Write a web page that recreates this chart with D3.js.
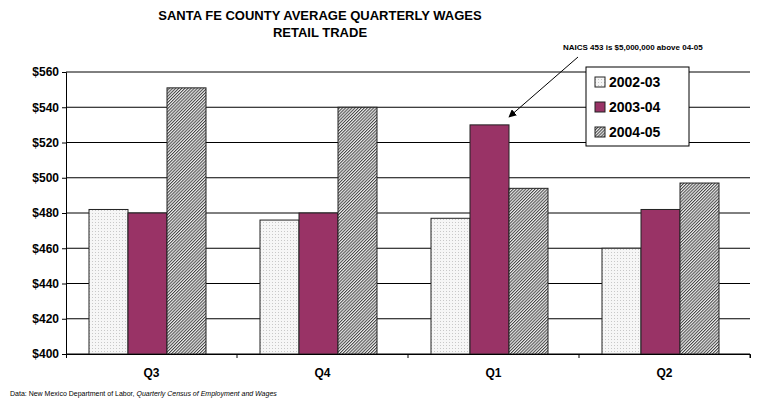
<!DOCTYPE html>
<html><head><meta charset="utf-8">
<script src="https://cdn.jsdelivr.net/npm/d3@7"></script>
<style>body{margin:0;background:#fff;font-family:Arial,"Liberation Sans",sans-serif}</style>
</head><body>
<svg id="c" width="759" height="406"></svg>
<script>
const quarters = ["Q3", "Q4", "Q1", "Q2"];
const years = ["2002-03", "2003-04", "2004-05"];
const wages0203 = [482, 476, 477, 460];
const wages0304 = [480, 480, 530, 482];
const wages0405 = [551, 540, 494, 497];
const yTicks = [400, 420, 440, 460, 480, 500, 520, 540, 560];
const series = [wages0203, wages0304, wages0405];

const svg = d3.select("#c");
const defs = svg.append("defs");
const dots = defs.append("pattern").attr("id", "dots").attr("width", 3).attr("height", 3).attr("patternUnits", "userSpaceOnUse");
dots.append("rect").attr("width", 3).attr("height", 3).attr("fill", "#f6f6f6");
dots.append("rect").attr("width", 1).attr("height", 1).attr("fill", "#c8c8c8");
const hatch = defs.append("pattern").attr("id", "hatch").attr("width", 2.2).attr("height", 2.2).attr("patternUnits", "userSpaceOnUse").attr("patternTransform", "rotate(45)");
hatch.append("rect").attr("width", 2.2).attr("height", 2.2).attr("fill", "#eee");
hatch.append("rect").attr("width", 1).attr("height", 2.2).attr("fill", "#444");
const fills = ["url(#dots)", "#993366", "url(#hatch)"];

const L = 66, R = 750, T = 72, B = 354;
const x = d3.scaleBand().domain(quarters).range([L, R]);
const xs = d3.scaleBand().domain(d3.range(3)).range([0, 117]);
const y = d3.scaleLinear().domain([400, 560]).range([B, T]);

svg.append("g").selectAll("line").data(yTicks).join("line")
  .attr("x1", L).attr("x2", R).attr("y1", d => y(d)).attr("y2", d => y(d))
  .attr("stroke", "#000").attr("stroke-width", 1);

svg.append("g").selectAll("g").data(quarters).join("g")
  .attr("transform", q => `translate(${x(q) + (x.bandwidth() - 117) / 2 - 4},0)`)
  .selectAll("rect").data((q, i) => series.map((s, k) => ({k, v: s[i]}))).join("rect")
  .attr("x", d => xs(d.k)).attr("width", xs.bandwidth())
  .attr("y", d => y(d.v)).attr("height", d => B - y(d.v))
  .attr("fill", d => fills[d.k]).attr("stroke", "#222").attr("stroke-width", 1);

svg.append("g").attr("transform", `translate(${L},0)`)
  .call(d3.axisLeft(y).tickValues(yTicks).tickFormat(d => "$" + d).tickSize(4))
  .call(g => g.selectAll("text").attr("font-size", 12).attr("font-weight", "bold").attr("font-family", "Arial"));
svg.append("g").attr("transform", `translate(0,${B})`)
  .call(d3.axisBottom(x).tickSize(4).tickPadding(10))
  .call(g => g.selectAll("text").attr("font-size", 12).attr("font-weight", "bold").attr("font-family", "Arial"))
  .call(g => g.selectAll(".tick line").attr("transform", `translate(${x.bandwidth() / 2},0)`));

svg.append("text").attr("x", 320).attr("y", 20).attr("text-anchor", "middle").attr("font-size", 13).attr("font-weight", "bold").text("SANTA FE COUNTY AVERAGE QUARTERLY WAGES");
svg.append("text").attr("x", 320).attr("y", 37).attr("text-anchor", "middle").attr("font-size", 13).attr("font-weight", "bold").text("RETAIL TRADE");

svg.append("text").attr("x", 563).attr("y", 50).attr("font-size", 8).attr("font-weight", "bold").text("NAICS 453 is $5,000,000 above 04-05");
defs.append("marker").attr("id", "arr").attr("viewBox", "0 0 10 10").attr("refX", 9).attr("refY", 5)
  .attr("markerWidth", 8).attr("markerHeight", 8).attr("orient", "auto")
  .append("path").attr("d", "M0,0L10,5L0,10z").attr("fill", "#000");
svg.append("line").attr("x1", 578).attr("y1", 57).attr("x2", 509).attr("y2", 117)
  .attr("stroke", "#000").attr("marker-end", "url(#arr)");

const lg = svg.append("g").attr("transform", "translate(586,67)");
lg.append("rect").attr("width", 103).attr("height", 79).attr("fill", "#fff").attr("stroke", "#000");
years.forEach((yr, i) => {
  lg.append("rect").attr("x", 9).attr("y", 10 + i * 25).attr("width", 10).attr("height", 10).attr("fill", fills[i]).attr("stroke", "#222");
  lg.append("text").attr("x", 23).attr("y", 20 + i * 25).attr("font-size", 14).attr("font-weight", "bold").text(yr);
});

const foot = svg.append("text").attr("x", 10).attr("y", 396).attr("font-size", 7);
foot.append("tspan").text("Data:  New Mexico Department of Labor, ");
foot.append("tspan").attr("font-style", "italic").text("Quarterly Census of Employment and Wages");
</script>
</body></html>
